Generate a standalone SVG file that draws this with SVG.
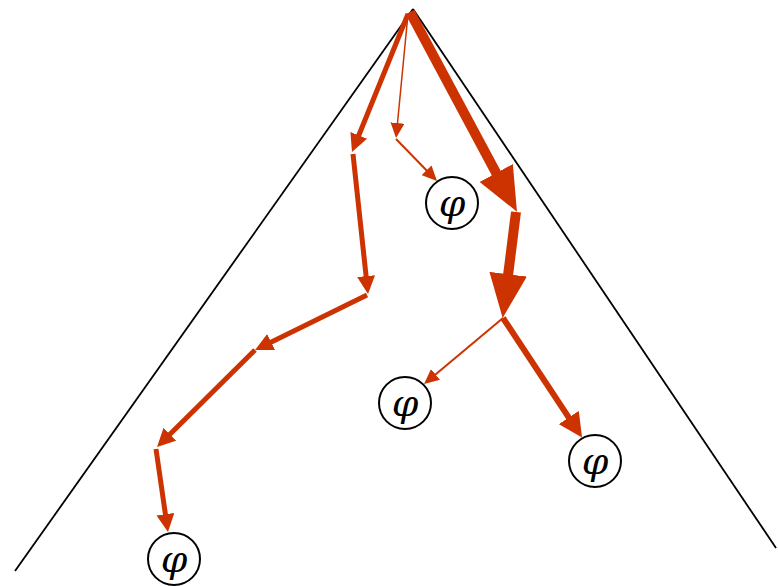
<svg xmlns="http://www.w3.org/2000/svg" width="778" height="586" viewBox="0 0 778 586">
<style>
.tri{stroke:#000;stroke-width:1.8;fill:none}
.a{stroke:#cc3300;fill:none;stroke-linecap:butt}
.n circle{fill:#fff;stroke:#000;stroke-width:2}
.n text{font-family:"DejaVu Serif",serif;font-style:italic;font-size:38px;fill:#000;text-anchor:middle;dominant-baseline:central}
</style>
<defs>
<marker id="mXL" markerUnits="userSpaceOnUse" markerWidth="44" markerHeight="38" viewBox="0 0 42 36" refX="2" refY="18" orient="auto"><path d="M0,0 L42,18 L0,36 z" fill="#cc3300"/></marker>
<marker id="mL" markerUnits="userSpaceOnUse" markerWidth="24" markerHeight="24" viewBox="0 0 22 22" refX="2" refY="11" orient="auto"><path d="M0,0 L22,11 L0,22 z" fill="#cc3300"/></marker>
<marker id="mM" markerUnits="userSpaceOnUse" markerWidth="18" markerHeight="18" viewBox="0 0 18 18" refX="2" refY="9" orient="auto"><path d="M0,0 L18,9 L0,18 z" fill="#cc3300"/></marker>
<marker id="mS" markerUnits="userSpaceOnUse" markerWidth="15" markerHeight="14" viewBox="0 0 15 14" refX="2" refY="7" orient="auto"><path d="M0,0 L15,7 L0,14 z" fill="#cc3300"/></marker>
</defs>
<g id="triangle">
<line class="tri" x1="413" y1="9" x2="15" y2="571"/>
<line class="tri" x1="413" y1="9" x2="776" y2="548"/>
</g>
<g id="connectors">
<line class="a" x1="410" y1="12" x2="497.2" y2="174.8" stroke-width="10" marker-end="url(#mXL)"/>
<line class="a" x1="516" y1="212" x2="507.9" y2="276.3" stroke-width="10" marker-end="url(#mXL)"/>
<line class="a" x1="503" y1="318" x2="570" y2="419.3" stroke-width="6" marker-end="url(#mL)"/>
<line class="a" x1="503" y1="318" x2="434" y2="375.7" stroke-width="2" marker-end="url(#mS)"/>
<line class="a" x1="408" y1="14" x2="397.3" y2="125" stroke-width="1.5" marker-end="url(#mS)"/>
<line class="a" x1="396" y1="139" x2="427.9" y2="171.7" stroke-width="2" marker-end="url(#mS)"/>
<line class="a" x1="408" y1="14" x2="358" y2="137.2" stroke-width="5" marker-end="url(#mM)"/>
<line class="a" x1="353" y1="154" x2="366.3" y2="278.1" stroke-width="5" marker-end="url(#mM)"/>
<line class="a" x1="367" y1="295" x2="269.4" y2="342.9" stroke-width="5" marker-end="url(#mM)"/>
<line class="a" x1="255" y1="350" x2="168.4" y2="435.7" stroke-width="5" marker-end="url(#mM)"/>
<line class="a" x1="156" y1="449" x2="165.7" y2="516.2" stroke-width="5" marker-end="url(#mM)"/>
</g>
<g id="n1" class="n"><circle cx="452" cy="203" r="26"/><text x="452" y="203">φ</text></g>
<g id="n2" class="n"><circle cx="405" cy="403" r="26"/><text x="405" y="403">φ</text></g>
<g id="n3" class="n"><circle cx="595" cy="461" r="26"/><text x="595" y="461">φ</text></g>
<g id="n4" class="n"><circle cx="174" cy="559" r="26"/><text x="174" y="559">φ</text></g>
</svg>
